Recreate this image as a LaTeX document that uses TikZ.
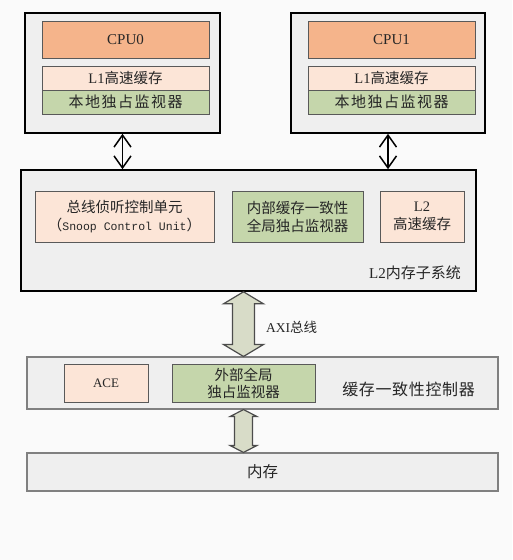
\documentclass[tikz,border=0pt]{standalone}
\usepackage{fontspec}
\setmainfont{Liberation Serif}
\setmonofont{Liberation Mono}
\newfontfamily\cjk{Noto Sans CJK SC}
\newfontfamily\cjkwide[LetterSpace=10]{Noto Sans CJK SC}
\usetikzlibrary{arrows.meta}
\usetikzlibrary{calc}
\definecolor{bgpaper}{HTML}{FAFAFA}
\definecolor{panel}{HTML}{EFEFEF}
\definecolor{coreorange}{HTML}{F5B48B}
\definecolor{cachepink}{HTML}{FCE5D7}
\definecolor{monitorgreen}{HTML}{C5D6AB}
\definecolor{busfill}{HTML}{D8DCC8}
\definecolor{inktext}{HTML}{262626}
\tikzset{
  cluster/.style={draw=black, line width=1.6pt, fill=panel},
  band/.style={draw=black!50, line width=1.1pt, fill=panel},
  unit/.style={draw=black!65, line width=0.8pt, text=inktext, align=center,
    inner sep=0pt, font=\cjk\fontsize{14.5}{17}\selectfont},
  caption/.style={text=inktext, inner sep=0pt, font=\cjk\fontsize{15}{18}\selectfont},
  corelink/.style={line width=1.5pt, {Straight Barb[length=12pt,width=17pt]}-{Straight Barb[length=12pt,width=17pt]}},
  busarrow/.style={draw=black!70, line width=1.2pt, fill=busfill, line join=miter}
}
\begin{document}
\begin{tikzpicture}[x=1pt,y=-1pt]
                \fill[bgpaper] (0,0) rectangle (512,560);
                \useasboundingbox (0,0) rectangle (512,560);

                % CPU clusters
                \node[cluster, minimum width=195pt, minimum height=120pt] (clusterA) at (122.5,73) {};
                \node[unit, fill=coreorange, minimum width=167pt, minimum height=37pt] (coreA) at (125.5,40) {\rmfamily\fontsize{15}{18}\selectfont CPU0};
                \node[unit, fill=cachepink, minimum width=167pt, minimum height=24pt] (cacheA) at (125.5,78) {{\rmfamily L1}高速缓存};
                \node[unit, fill=monitorgreen, minimum width=167pt, minimum height=24pt, font=\cjkwide\fontsize{15}{18}\selectfont] (monA) at (125.5,102) {本地独占监视器};

                \node[cluster, minimum width=194pt, minimum height=120pt] (clusterB) at (388,73) {};
                \node[unit, fill=coreorange, minimum width=167pt, minimum height=37pt] (coreB) at (391.5,40) {\rmfamily\fontsize{15}{18}\selectfont CPU1};
                \node[unit, fill=cachepink, minimum width=167pt, minimum height=24pt] (cacheB) at (391.5,78) {{\rmfamily L1}高速缓存};
                \node[unit, fill=monitorgreen, minimum width=167pt, minimum height=24pt, font=\cjkwide\fontsize{15}{18}\selectfont] (monB) at (391.5,102) {本地独占监视器};

                % L2 memory subsystem
                \node[cluster, minimum width=455pt, minimum height=121pt] (l2sys) at (248.5,230.5) {};
                \node[unit, fill=cachepink, minimum width=179pt, minimum height=51pt] (scu) at (124.5,216.5)
                    {总线侦听控制单元\\[1pt]（{\ttfamily\fontsize{11.5}{14}\selectfont Snoop Control Unit}）};
                \node[unit, fill=monitorgreen, minimum width=131pt, minimum height=51pt] (igm) at (297.5,216.5)
                    {内部缓存一致性\\[1pt]全局独占监视器};
                \node[unit, fill=cachepink, minimum width=84pt, minimum height=51pt] (l2cache) at (422,216.5)
                    {{\rmfamily L2}\\[1pt]高速缓存};
                \node[caption, anchor=east] (l2name) at (461,273) {{\rmfamily L2}内存子系统};

                % cache coherency controller and memory
                \node[band, minimum width=471pt, minimum height=52pt] (cohr) at (262.5,383) {};
                \node[unit, fill=cachepink, minimum width=84pt, minimum height=38pt] (ace) at (106,383) {\rmfamily\fontsize{13}{16}\selectfont ACE};
                \node[unit, fill=monitorgreen, minimum width=143pt, minimum height=38pt] (egm) at (243.5,383)
                    {外部全局\\独占监视器};
                \node[caption, anchor=east, font=\cjk\fontsize{16}{19}\selectfont\addfontfeature{LetterSpace=4}] (cohrname) at (475,389) {缓存一致性控制器};
                \node[band, minimum width=471pt, minimum height=38pt] (mem) at (262.5,472) {};
                \node[caption, font=\cjk\fontsize{15.5}{18}\selectfont] (memname) at (262.5,472) {内存};

                % links
                \draw[corelink] (clusterA.south) -- (clusterA.south |- l2sys.north);
                \draw[corelink] (clusterB.south) -- (clusterB.south |- l2sys.north);

                \coordinate (axiTop) at (l2sys.south -| egm.north);
                \coordinate (axiBot) at (cohr.north -| egm.north);
                \draw[busarrow] (axiTop) -- ($(axiTop)+(20,12)$) -- ($(axiTop)+(11,12)$) -- ($(axiBot)+(11,-12)$)
                    -- ($(axiBot)+(20,-12)$) -- (axiBot) -- ($(axiBot)+(-20,-12)$) -- ($(axiBot)+(-11,-12)$)
                    -- ($(axiTop)+(-11,12)$) -- ($(axiTop)+(-20,12)$) -- cycle;
                \node[caption, anchor=west, font=\cjk\fontsize{13.5}{16}\selectfont] (axiname) at (266,327) {{\rmfamily AXI}总线};

                \coordinate (memTop) at (cohr.south -| egm.north);
                \coordinate (memBot) at (mem.north -| egm.north);
                \draw[busarrow] (memTop) -- ($(memTop)+(13.5,7)$) -- ($(memTop)+(9,7)$) -- ($(memBot)+(9,-7)$)
                    -- ($(memBot)+(13.5,-7)$) -- (memBot) -- ($(memBot)+(-13.5,-7)$) -- ($(memBot)+(-9,-7)$)
                    -- ($(memTop)+(-9,7)$) -- ($(memTop)+(-13.5,7)$) -- cycle;
            \end{tikzpicture}
\end{document}
